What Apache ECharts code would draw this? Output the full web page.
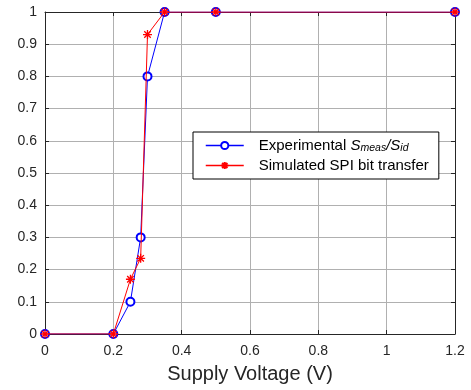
<!DOCTYPE html>
<html>
<head>
<meta charset="utf-8">
<script src="https://cdn.jsdelivr.net/npm/echarts@6/dist/echarts.min.js"></script>
<style>
  html, body { margin: 0; padding: 0; background: #fff; }
  #chart { width: 471px; height: 390px; }
</style>
</head>
<body>
<div id="chart"></div>
<script>
// Supply voltage sweep (V)
const voltageExp = [0, 0.2, 0.25, 0.28, 0.3, 0.35, 0.5, 1.2];
const ratioExp   = [0, 0, 0.1, 0.3, 0.8, 1, 1, 1];
const voltageSim = [0, 0.2, 0.25, 0.28, 0.3, 0.35, 0.5, 1.2];
const ratioSim   = [0, 0, 0.17, 0.235, 0.93, 1, 1, 1];

const expName = 'Experimental Smeas/Sid';
const simName = 'Simulated SPI bit transfer';
const xTitle = 'Supply Voltage (V)';

const font = '"Liberation Sans", Arial, Helvetica, sans-serif';
const axisColor = '#262626';
const gridColor = '#b0b0b0';
const blue = '#0000ff';
const red = '#ff0000';

const asterisk = 'path://M0,-1L0,1M-1,0L1,0M-0.72,-0.72L0.72,0.72M-0.72,0.72L0.72,-0.72';

function pairs(xs, ys) { return xs.map((x, i) => [x, ys[i]]); }

const chart = echarts.init(document.getElementById('chart'), null, { renderer: 'canvas' });

const boxAxis = {
  axisLine: { show: true, onZero: false, lineStyle: { color: axisColor, width: 1 } },
  axisTick: { show: true, inside: true, length: 4, lineStyle: { color: axisColor } },
  axisLabel: { show: false },
  splitLine: { show: false }
};

chart.setOption({
  animation: false,
  backgroundColor: '#fff',
  textStyle: { fontFamily: font },
  grid: { left: 45, right: 16, top: 12, bottom: 56, containLabel: false },
  xAxis: [{
    type: 'value', min: 0, max: 1.2, interval: 0.2, position: 'bottom',
    name: xTitle, nameLocation: 'middle', nameGap: 30,
    nameTextStyle: { fontSize: 20, color: axisColor, fontFamily: font },
    axisLine: { show: true, onZero: false, lineStyle: { color: axisColor, width: 1 } },
    axisTick: { show: true, inside: true, length: 4, lineStyle: { color: axisColor } },
    axisLabel: { fontSize: 14, color: axisColor, margin: 10, fontFamily: font, showMinLabel: true, showMaxLabel: true },
    splitLine: { show: true, lineStyle: { color: gridColor, width: 1 } }
  }, Object.assign({ type: 'value', min: 0, max: 1.2, interval: 0.2, position: 'top' }, boxAxis)],
  yAxis: [{
    type: 'value', min: 0, max: 1, interval: 0.1, position: 'left',
    axisLine: { show: true, onZero: false, lineStyle: { color: axisColor, width: 1 } },
    axisTick: { show: true, inside: true, length: 4, lineStyle: { color: axisColor } },
    axisLabel: { fontSize: 14, color: axisColor, margin: 8, fontFamily: font, showMinLabel: true, showMaxLabel: true },
    splitLine: { show: true, lineStyle: { color: gridColor, width: 1 } }
  }, Object.assign({ type: 'value', min: 0, max: 1, interval: 0.1, position: 'right' }, boxAxis)],
  legend: {
    orient: 'vertical',
    left: 193, top: 132,
    padding: [5, 10, 5, 12],
    itemWidth: 38, itemHeight: 9, itemGap: 3,
    backgroundColor: '#fff',
    borderColor: '#000', borderWidth: 1, borderRadius: 0,
    data: [
      { name: expName, lineStyle: { color: blue, width: 1.5 } },
      { name: simName, lineStyle: { color: red, width: 1.5 } }
    ],
    formatter: function (name) {
      if (name === expName) {
        return 'Experimental {i|S}{sub|meas}{i|/S}{sub|id}';
      }
      return name;
    },
    textStyle: {
      fontSize: 15, color: '#000', fontFamily: font, padding: [0, 0, 0, 10], lineHeight: 17,
      rich: {
        i: { fontSize: 15, fontStyle: 'italic', fontFamily: font, color: '#000', lineHeight: 17 },
        sub: { fontSize: 10.5, fontStyle: 'italic', fontFamily: font, color: '#000', padding: [6, 0, 0, 0] }
      }
    }
  },
  series: [{
    name: expName,
    type: 'line',
    data: pairs(voltageExp, ratioExp),
    symbol: 'emptyCircle', symbolSize: 8,
    lineStyle: { color: blue, width: 1 },
    itemStyle: { color: blue, borderColor: blue, borderWidth: 1.2 },
    z: 2
  }, {
    name: simName,
    type: 'line',
    data: pairs(voltageSim, ratioSim),
    symbol: asterisk, symbolSize: 9,
    lineStyle: { color: red, width: 1 },
    itemStyle: { color: red, borderColor: red, borderWidth: 1.3 },
    z: 3
  }]
});
</script>
</body>
</html>
